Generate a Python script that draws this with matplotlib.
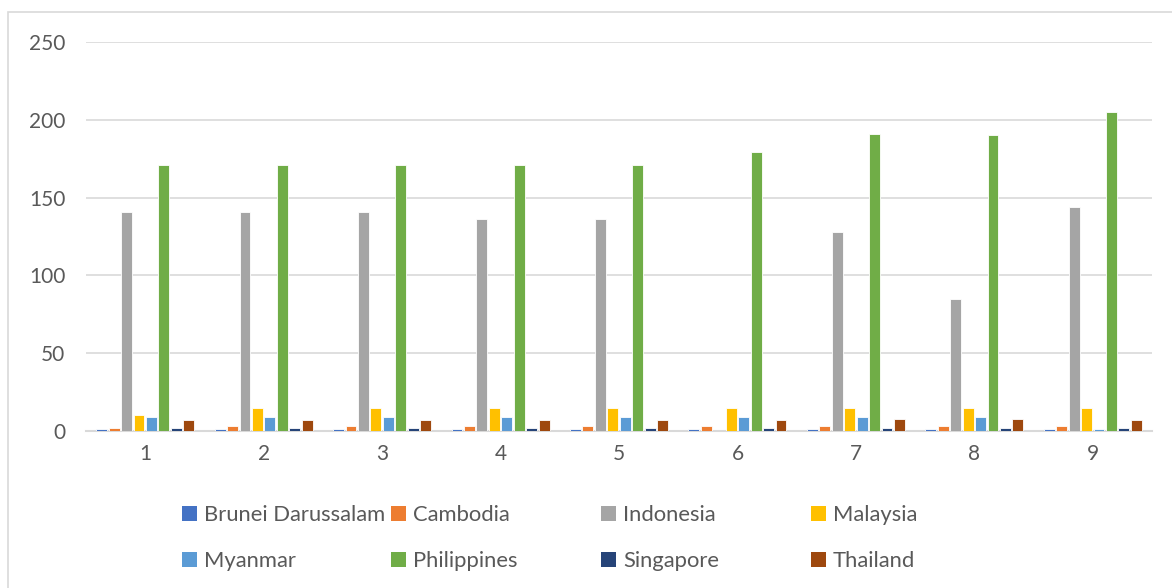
import numpy as np
import matplotlib.pyplot as plt
from matplotlib.patches import Patch, Rectangle

# Series per country, one value per period
periods = [1, 2, 3, 4, 5, 6, 7, 8, 9]
countries = ["Brunei Darussalam", "Cambodia", "Indonesia", "Malaysia",
             "Myanmar", "Philippines", "Singapore", "Thailand"]
brunei = [1, 1, 1, 1, 1, 1, 1, 1, 1]
cambodia = [2, 3, 3, 3, 3, 3, 3, 3, 3]
indonesia = [141, 141, 141, 136, 136, 0, 128, 85, 144]
malaysia = [10, 15, 15, 15, 15, 15, 15, 15, 15]
myanmar = [9, 9, 9, 9, 9, 9, 9, 9, 1]
philippines = [171, 171, 171, 171, 171, 179, 191, 190, 205]
singapore = [2, 2, 2, 2, 2, 2, 2, 2, 2]
thailand = [7, 7, 7, 7, 7, 7, 8, 8, 7]
series = [brunei, cambodia, indonesia, malaysia, myanmar, philippines, singapore, thailand]
colors = ["#4472C4", "#ED7D31", "#A5A5A5", "#FFC000",
          "#5B9BD5", "#70AD47", "#264478", "#9E480E"]

plt.rcParams['font.family'] = ['Lato', 'DejaVu Sans']
text_color = "#595959"

fig = plt.figure(figsize=(11.72, 5.88), dpi=100)
# chart frame
fig.patches.append(Rectangle((8 / 1172, -0.1), 1.2, 1 - 12 / 588 + 0.1, transform=fig.transFigure,
                             facecolor="none", edgecolor="#d9d9d9", linewidth=1.2))

ax = fig.add_axes([86 / 1172, 1 - 431 / 588, 1066 / 1172, 389 / 588])
x = np.arange(len(periods))
pitch = 0.105
width = 0.092
for i, (vals, c) in enumerate(zip(series, colors)):
    ax.bar(x + (i - 3.5) * pitch, vals, width=width, color=c,
           edgecolor="white", linewidth=0.6, zorder=3)

ax.set_xlim(-0.5, len(periods) - 0.5)
ax.set_ylim(0, 250)
ax.set_yticks([0, 50, 100, 150, 200, 250])
ax.set_xticks(x)
ax.set_xticklabels([str(p) for p in periods])
ax.grid(axis='y', color="#d9d9d9", linewidth=1.2, zorder=0)
for s in ["top", "right", "left"]:
    ax.spines[s].set_visible(False)
ax.spines["bottom"].set_color("#d9d9d9")
ax.spines["bottom"].set_linewidth(1.5)
ax.tick_params(length=0, labelsize=15, colors=text_color)
ax.tick_params(axis='y', pad=15)
ax.tick_params(axis='x', pad=9)

# legend: four columns of two entries each
col_x = [182, 391, 601, 811]
for j in range(4):
    handles = [Patch(facecolor=colors[j]), Patch(facecolor=colors[j + 4])]
    labels = [countries[j], countries[j + 4]]
    fig.legend(handles, labels, loc="upper left",
               bbox_to_anchor=(col_x[j] / 1172, 1 - 505 / 588),
               frameon=False, fontsize=15.8, labelcolor=text_color,
               handlelength=0.7, handleheight=0.7, handletextpad=0.3,
               labelspacing=1.2, borderpad=0, borderaxespad=0)

fig.savefig("out.png", dpi=100)
